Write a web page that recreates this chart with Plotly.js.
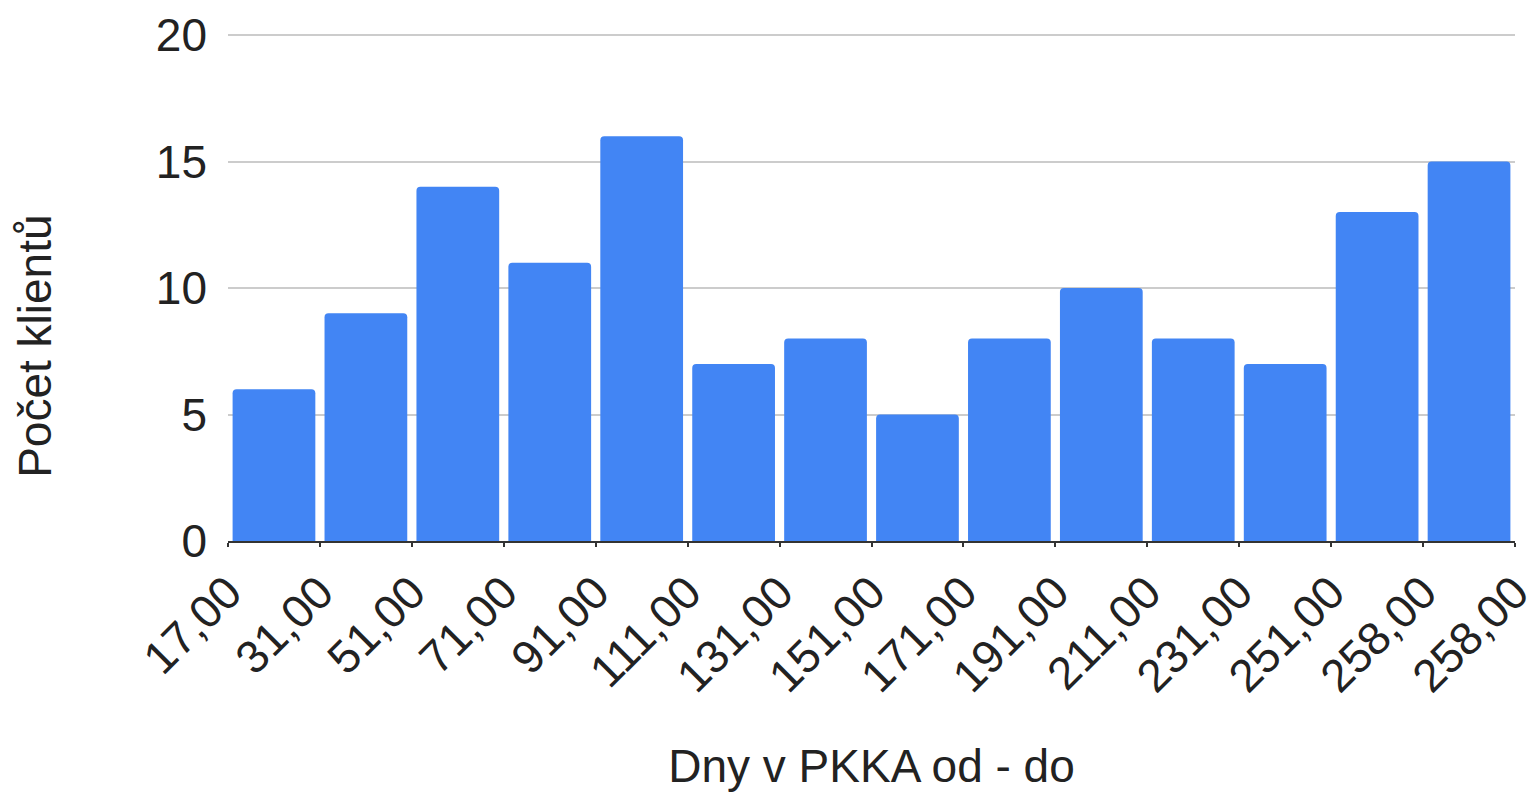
<!DOCTYPE html>
<html>
<head>
<meta charset="utf-8">
<script src="https://cdn.plot.ly/plotly-3.0.1.min.js"></script>
<style>
  html, body { margin: 0; padding: 0; background: #fff; }
  #chart { width: 1539px; height: 792px; }
</style>
</head>
<body>
<div id="chart"></div>
<script>
// bin edges as shown under the axis (15 edges, 14 bins)
const binEdges = ['17,00', '31,00', '51,00', '71,00', '91,00', '111,00', '131,00',
  '151,00', '171,00', '191,00', '211,00', '231,00', '251,00', '258,00', '258,00'];
// clients per bin
const counts = [6, 9, 14, 11, 16, 7, 8, 5, 8, 10, 8, 7, 13, 15];

const xTitle = 'Dny v PKKA od - do';
const yTitle = 'Počet klientů';

const FONT = 'Liberation Sans, Arial, sans-serif';
const FS = 46;

let trace = {
  type: 'bar',
  x: counts.map((c, i) => i + 0.5),
  y: counts,
  width: 0.9,
  marker: { color: '#4285f4', cornerradius: 4 },
  hoverinfo: 'y'
};

let layout = {
  width: 1539,
  height: 792,
  margin: { l: 228, r: 24, t: 34, b: 251 },
  paper_bgcolor: '#fff',
  plot_bgcolor: '#fff',
  showlegend: false,
  font: { family: FONT, size: FS, color: '#222' },
  xaxis: {
    range: [0, 14],
    tickvals: binEdges.map((e, i) => i),
    ticktext: binEdges,
    tickangle: -45,
    ticks: 'outside',
    ticklen: 4,
    tickwidth: 2,
    tickcolor: '#333',
    showgrid: false,
    zeroline: false,
    showline: true,
    linecolor: '#333',
    linewidth: 2,
    automargin: false,
    title: { text: xTitle, font: { size: FS, color: '#222' }, standoff: 58 }
  },
  yaxis: {
    range: [0, 20.04],
    tickvals: [0, 5, 10, 15, 20],
    showgrid: true,
    gridcolor: '#cccccc',
    gridwidth: 2,
    zeroline: false,
    showline: false,
    ticks: '',
    ticklabelstandoff: 20,
    automargin: false
  },
  annotations: [{
    text: yTitle,
    textangle: -90,
    xref: 'paper', yref: 'paper',
    x: 0, xshift: -193, xanchor: 'center',
    y: 0.383, yanchor: 'middle',
    showarrow: false,
    font: { size: FS, color: '#222' }
  }]
};

Plotly.newPlot('chart', [trace], layout, { staticPlot: true, displayModeBar: false });
</script>
</body>
</html>
